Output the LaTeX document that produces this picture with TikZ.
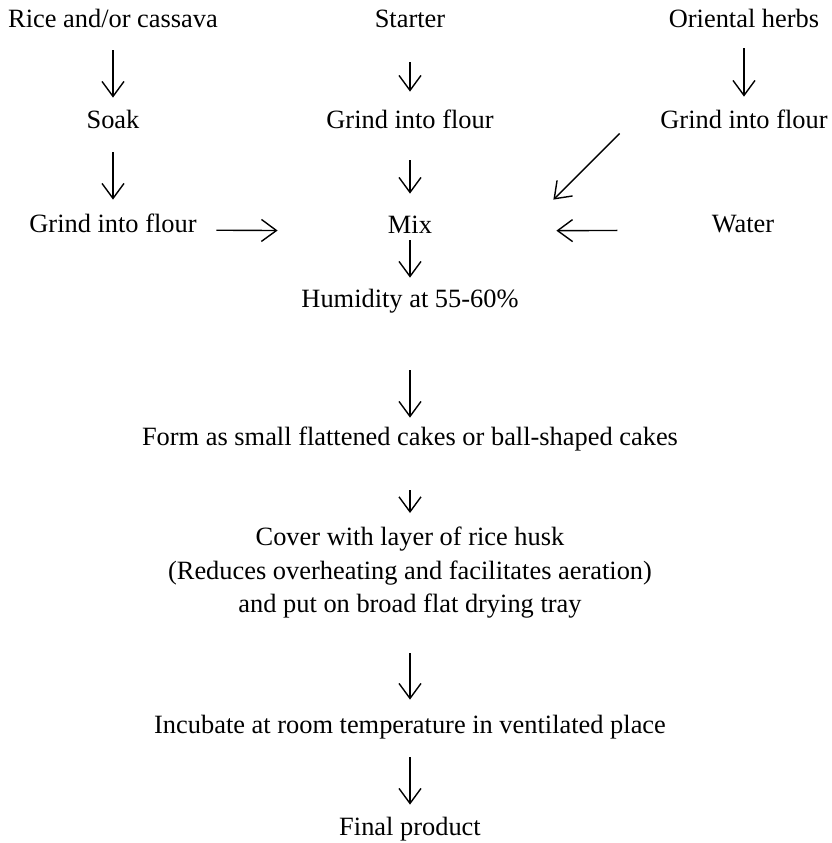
\documentclass[tikz,border=0pt]{standalone}
\usepackage{fontspec}
\setmainfont{Liberation Serif}
\usetikzlibrary{arrows.meta}

\tikzset{
  stage/.style={inner sep=0pt, text height=9.2pt, text depth=3.3pt, anchor=base},
  stagebox/.style={inner sep=0pt, align=center, anchor=north},
  flow/.style={->, line width=0.7pt}
}

\begin{document}
\begin{tikzpicture}[x=0.5pt, y=-0.5pt, font=\fontsize{13.2}{17}\selectfont, >={Straight Barb[length=7.5pt,width=11pt]}]
		\useasboundingbox (0,0) rectangle (832,843);
		\node[stage] (rice) at (113,27) {Rice and/or cassava};
		\node[stage] (starter) at (410,27) {Starter};
		\node[stage] (herbs) at (744,27) {Oriental herbs};
		\node[stage] (soak) at (113,128) {Soak};
		\node[stage] (grindB) at (410,128) {Grind into flour};
		\node[stage] (grindC) at (744,128) {Grind into flour};
		\node[stage] (grindA) at (113,232) {Grind into flour};
		\node[stage] (mix) at (410,233) {Mix};
		\node[stage] (water) at (743,232) {Water};
		\node[stage] (humid) at (410,307) {Humidity at 55-60\%};
		\node[stage] (form) at (410,445) {Form as small flattened cakes or ball-shaped cakes};
		\node[stagebox] (cover) at (410,526) {Cover with layer of rice husk\\(Reduces overheating and facilitates aeration)\\and put on broad flat drying tray};
		\node[stage] (incub) at (410,733) {Incubate at room temperature in ventilated place};
		\node[stage] (final) at (410,835) {Final product};
		% left column
		\draw[flow, shorten <=8.2pt, shorten >=5.8pt] (rice.south) -- (soak.north);
		\draw[flow, shorten <=8.7pt, shorten >=6.8pt] (soak.south) -- (grindA.north);
		\draw[flow, shorten <=9.75pt, shorten >=55pt] ([yshift=-2pt]grindA.east) -- ([yshift=-2pt]mix.west);
		% middle column
		\draw[flow, shorten <=14.2pt, shorten >=8.8pt] (starter.south) -- (grindB.north);
		\draw[flow, shorten <=12.7pt, shorten >=10.3pt] (grindB.south) -- (mix.north);
		% right column
		\draw[flow, shorten <=7.2pt, shorten >=6.3pt] (herbs.south) -- (grindC.north);
		\draw[flow] ([xshift=-20.2pt,yshift=0.8pt]grindC.south west) -- ([xshift=60.5pt,yshift=7.3pt]mix.north east);
		\draw[flow, shorten <=47pt, shorten >=62pt] ([yshift=-2pt]water.west) -- ([yshift=-2pt]mix.east);
		% main line
		\draw[flow, shorten >=5.3pt] (mix.south) -- (humid.north);
		\draw[flow, shorten <=28.2pt, shorten >=4.3pt] (humid.south) -- (form.north);
		\draw[flow, shorten <=19.2pt, shorten >=6.5pt] (form.south) -- (cover.north);
		\draw[flow, shorten <=17.2pt, shorten >=7.3pt] (cover.south) -- (incub.north);
		\draw[flow, shorten <=8.7pt, shorten >=5.8pt] (incub.south) -- (final.north);
\end{tikzpicture}
\end{document}
